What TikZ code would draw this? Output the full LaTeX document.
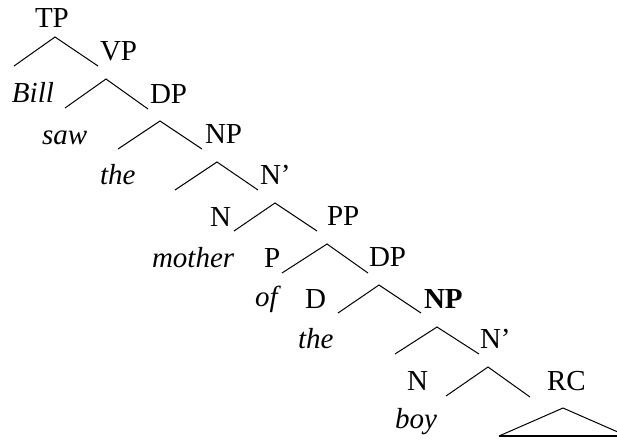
\documentclass[tikz,border=0pt]{standalone}
\usepackage{fontspec}
\setmainfont{Liberation Serif}
\begin{document}
\begin{tikzpicture}[x=1pt,y=-1pt,
  lab/.style={anchor=base west,inner sep=0pt,outer sep=0pt,font=\fontsize{29}{34}\selectfont},
  word/.style={lab,font=\fontsize{29}{34}\selectfont\itshape},
  branch/.style={line width=1pt,line join=miter}]
\useasboundingbox (0,0) rectangle (617,440);
\clip (0,0) rectangle (617,440);
% labels
\node[lab]  (TP)   at (35,27)  {TP};
\node[lab]  (VP)   at (100,60) {VP};
\node[word] (bill) at (12,102) {Bill};
\node[lab]  (DP1)  at (150,103) {DP};
\node[word] (saw)  at (42,144) {saw};
\node[lab]  (NP1)  at (205,143) {NP};
\node[word] (the1) at (100,184) {the};
\node[lab]  (Nb1)  at (260,184) {N'};
\node[lab]  (N1)   at (210,226) {N};
\node[lab]  (PP)   at (327,225) {PP};
\node[word] (moth) at (152,267) {mother};
\node[lab]  (P)    at (264,267) {P};
\node[lab]  (DP2)  at (369,266) {DP};
\node[word] (of)   at (255,306) {of};
\node[lab]  (D)    at (305,308) {D};
\node[lab,font=\fontsize{29}{34}\selectfont\bfseries] (NP2) at (424,308) {NP};
\node[word] (the2) at (298,348) {the};
\node[lab]  (Nb2)  at (480,348) {N'};
\node[lab]  (N2)   at (407,390) {N};
\node[lab]  (RC)   at (547,390) {RC};
\node[word] (boy)  at (395,428) {boy};
% branch points
\foreach \i/\ax/\ay/\lx/\ly/\rx/\ry in {
  1/55/37/14/66/98/66,
  2/106/79/65/108/148/109,
  3/160/121/118/149/202/149,
  4/217/162/175/190/258/190,
  5/275/203/234/231/317/231,
  6/327/244/282/273/368/273,
  7/379/285/338/313/421/313,
  8/437/327/395/354/479/354,
  9/488/367/446/396/530/397}{
  \coordinate (a\i) at (\ax,\ay);
  \coordinate (l\i) at (\lx,\ly);
  \coordinate (r\i) at (\rx,\ry);
  \draw[branch] (l\i) -- (a\i) -- (r\i);
}
% triangle under RC
\coordinate (ta) at (563,408);
\coordinate (tl) at (499,436);
\coordinate (tr) at (627,436);
\draw[branch] (tl) -- (ta) -- (tr);
\draw[line width=2pt] (tl) -- (tr);
\end{tikzpicture}
\end{document}
